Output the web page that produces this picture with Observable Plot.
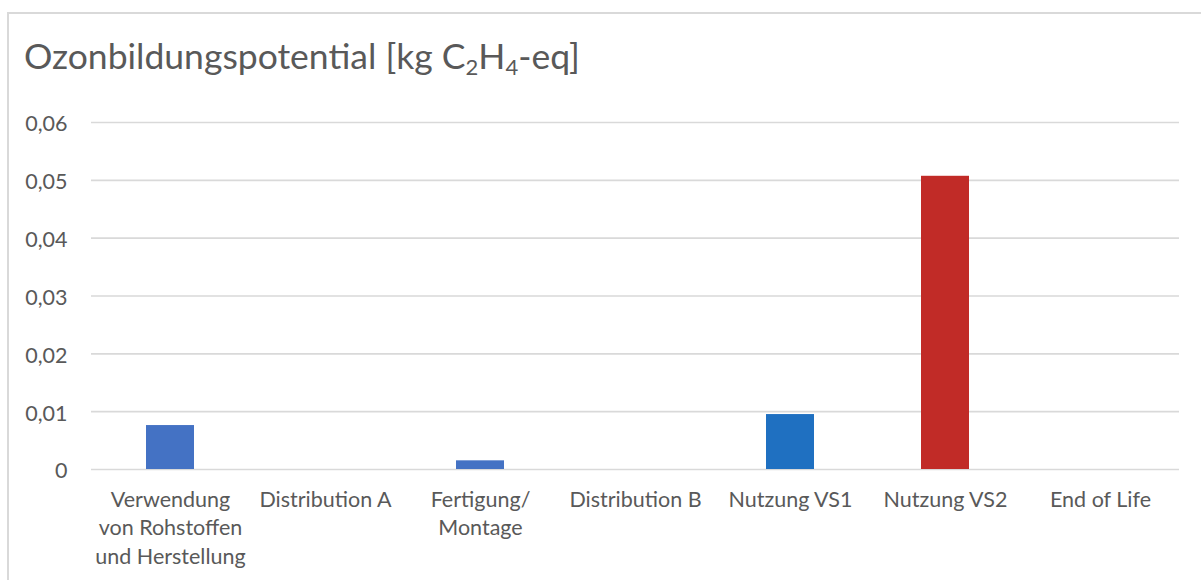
<!DOCTYPE html>
<html>
<head>
<meta charset="utf-8">
<script src="https://cdn.jsdelivr.net/npm/d3@7"></script>
<script src="https://cdn.jsdelivr.net/npm/@observablehq/plot@0.6"></script>
<style>
  html, body { margin: 0; padding: 0; background: #fff; overflow: hidden; width: 1201px; height: 580px; }
  #frame {
    position: absolute; left: 7px; top: 12px; width: 1300px; height: 700px;
    border: 2px solid #d9d9d9; box-sizing: border-box;
  }
  #title {
    position: absolute; left: 24px; top: 38px; margin: 0;
    font-family: Lato, sans-serif; font-size: 35.5px; font-weight: 400; color: #595959;
    white-space: nowrap; line-height: 1;
  }
  #title sub { font-size: 0.62em; vertical-align: -0.25em; line-height: 0; }
  #chart { position: absolute; left: 0; top: 95px; }
</style>
</head>
<body>
<div id="frame"></div>
<div id="title">Ozonbildungspotential [kg C<sub>2</sub>H<sub>4</sub>-eq]</div>
<div id="chart"></div>
<script>
// Life-cycle phases (line breaks as shown under each bar)
const categories = [
  "Verwendung\nvon Rohstoffen\nund Herstellung",
  "Distribution A",
  "Fertigung/\nMontage",
  "Distribution B",
  "Nutzung VS1",
  "Nutzung VS2",
  "End of Life"
];
// Ozone formation potential per phase, kg C2H4-eq
const values = [0.0076, 0, 0.0015, 0, 0.0095, 0.0507, 0];
// Bar fill per phase
const barColors = ["#4472C4", "#4472C4", "#4472C4", "#4472C4", "#1F70C1", "#C12B27", "#4472C4"];
// Value axis ticks
const yTicks = [0, 0.01, 0.02, 0.03, 0.04, 0.05, 0.06];

const rows = categories.map((c, i) => ({phase: c, value: values[i]}));
const fmt = d => d === 0 ? "0" : d.toFixed(2).replace(".", ",");

const chart = Plot.plot({
  width: 1201,
  height: 485,
  marginLeft: 91,
  marginRight: 22,
  marginTop: 27,
  marginBottom: 111,
  style: {fontFamily: "Lato, sans-serif", fontSize: "21.5px", color: "#595959", background: "transparent"},
  x: {domain: categories, paddingInner: 0.688, paddingOuter: 0.344, label: null},
  y: {domain: [0, 0.06], label: null},
  color: {domain: categories, range: barColors},
  marks: [
    Plot.ruleY(yTicks, {stroke: "#d9d9d9", strokeWidth: 1.6}),
    Plot.barY(rows, {x: "phase", y: "value", fill: "phase"}),
    Plot.axisY(yTicks, {tickSize: 0, tickPadding: 24, tickFormat: fmt, fill: "#595959", dy: 2, label: null}),
    Plot.axisX({tickSize: 0, tickPadding: 17, lineHeight: 1.33, fill: "#595959", label: null})
  ]
});
document.getElementById("chart").appendChild(chart);
</script>
</body>
</html>
